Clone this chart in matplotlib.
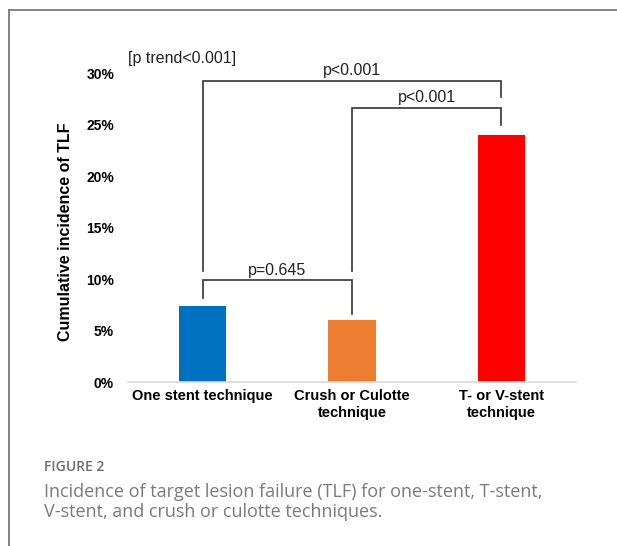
import numpy as np
import matplotlib
matplotlib.use("Agg")
import matplotlib.pyplot as plt

# Datos del grafico (porcentajes)
categorias = ["One stent technique", "Crush or Culotte\ntechnique", "T- or V-stent\ntechnique"]
tlf = [7.4, 6.0, 24.0]
colores = ["#0070c0", "#ed7d31", "#ff0000"]
yticks = [0, 5, 10, 15, 20, 25, 30]

# comparaciones: (grupo a, grupo b, altura barra, fin pierna a, fin pierna b, etiqueta)
comparaciones = [
    (0, 1, 9.9, 8.2, 6.6, "p=0.645"),
    (0, 2, 29.3, 10.8, 27.7, "p<0.001"),
    (1, 2, 26.65, 10.8, 25.0, "p<0.001"),
]
trend = "[p trend<0.001]"
caption_titulo = "FIGURE 2"
caption = ("Incidence of target lesion failure (TLF) for one-stent, T-stent,\n"
           "V-stent, and crush or culotte techniques.")

plt.rcParams['font.family'] = ['Liberation Sans', 'DejaVu Sans']

fig = plt.figure(figsize=(6.17, 5.46), dpi=100)
ax = fig.add_axes([128/617, 1-382/546, 448/617, (382-73.6)/546])

x = np.arange(len(categorias))
ax.bar(x, tlf, width=0.315, color=colores)

ax.set_xlim(-0.5, 2.5)
ax.set_ylim(0, 30)
ax.set_yticks(yticks)
ax.set_yticklabels([f"{v}%" for v in yticks], fontsize=10, fontweight='bold')
ax.set_xticks(x)
ax.set_xticklabels(categorias, fontsize=10.5, fontweight='bold', linespacing=1.3)
ax.tick_params(axis='y', length=0, pad=10)
ax.tick_params(axis='x', length=0, pad=5)
for s in ['top', 'right', 'left']:
    ax.spines[s].set_visible(False)
ax.spines['bottom'].set_color('#d9d9d9')
ax.spines['bottom'].set_linewidth(1.2)

for a, b, h, ya, yb, lab in comparaciones:
    ax.plot([a, a, b, b], [ya, h, h, yb], color='#333333', lw=1.2,
            clip_on=False, solid_joinstyle='miter')
    ax.text((a + b) / 2, h + 0.25, lab, ha='center', va='bottom',
            fontsize=11.5, color='#222222', clip_on=False)

ax.text(-0.5, 31.5, trend, ha='left', va='center', fontsize=11.5, color='#222222')

fig.text(66/617, 1-232/546, "Cumulative incidence of TLF", rotation=90,
         ha='center', va='center', fontsize=11.5, fontweight='bold')

# marco y leyenda de la figura
fig.add_artist(plt.Line2D([9/617, 9/617], [0, 1-10/546], color='#7a7a7a', lw=1.3))
fig.add_artist(plt.Line2D([9/617, 1], [1-10/546, 1-10/546], color='#7a7a7a', lw=1.3))
fig.text(44/617, 1-467/546, caption_titulo, ha='left', va='center', fontsize=10,
         fontweight='semibold', color='#6e6e6e', family=['Open Sans', 'DejaVu Sans'])
fig.text(44/617, 1-502/546, caption, ha='left', va='center', fontsize=13,
         color='#7a7a7a', linespacing=1.2, family=['Open Sans', 'DejaVu Sans'])

fig.savefig("out.png", dpi=100)
